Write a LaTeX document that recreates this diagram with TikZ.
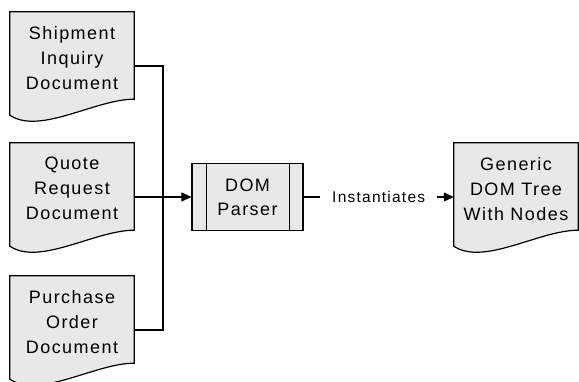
\documentclass[tikz,border=0pt]{standalone}
\usepackage{fontspec}
\setmainfont{Liberation Sans}[LetterSpace=8]
\usetikzlibrary{arrows.meta,calc,backgrounds}

\definecolor{shapefill}{RGB}{232,232,232}

% text block of a document shape: fixed size, lines hung from the top
\newcommand\doctext[1]{\parbox[c][108pt][t]{124pt}{\centering\vspace*{14pt}#1}}

% outline of a document shape with a wavy lower edge
\newcommand\docoutline[1]{%
  \path[docline] (#1.north west) -- (#1.north east) -- ($(#1.south east)+(0,-21)$)
    .. controls ($(#1.south east)+(-39,-21)$) and ($(#1.south west)+(30,15)$)
    .. ($(#1.south west)+(0,-5)$) -- cycle;}

\tikzset{
  docshape/.style={inner sep=0pt, minimum width=124pt, minimum height=108pt,
    font=\fontsize{18}{25}\selectfont},
  docline/.style={draw=black, fill=shapefill, line width=1.2pt, line join=miter},
  procbox/.style={draw=black, fill=shapefill, line width=1.2pt, inner sep=0pt,
    minimum width=111pt, minimum height=67pt, align=center,
    font=\fontsize{18}{24}\selectfont},
  conn/.style={draw=black, line width=1.1pt},
  tip/.style={-{Triangle[length=10pt,width=9pt]}},
  edgelabel/.style={fill=white, inner xsep=12pt, inner ysep=2pt,
    font=\fontsize{15.5}{18}\selectfont},
}

\begin{document}
\begin{tikzpicture}[x=1pt, y=-1pt]
  \useasboundingbox (0,0) rectangle (579,382);

  % input documents
  \node[docshape] (ship)  at (72,66)  {\doctext{Shipment\\Inquiry\\Document}};
  \node[docshape] (quote) at (72,197) {\doctext{Quote\\Request\\Document}};
  \node[docshape] (order) at (72,330) {\doctext{Purchase\\Order\\Document}};

  % parser
  \node[procbox] (parser) at (247.5,197) {DOM\\Parser};
  \draw[line width=1.2pt] ($(parser.north west)+(15,0)$) -- ($(parser.south west)+(15,0)$);
  \draw[line width=1.2pt] ($(parser.north east)+(-14,0)$) -- ($(parser.south east)+(-14,0)$);

  % output document
  \node[docshape] (tree) at (516,197) {\doctext{Generic\\DOM Tree\\With Nodes}};

  \begin{scope}[on background layer]
    \docoutline{ship}
    \docoutline{quote}
    \docoutline{order}
    \docoutline{tree}
  \end{scope}

  % connectors
  \coordinate (merge) at (163,197);
  \draw[conn] (ship.east) -| (merge);
  \draw[conn] (order.east) -| (merge);
  \draw[conn,tip] (quote.east) -- (parser.west);
  \draw[conn,tip] (parser.east) -- node[edgelabel] (inst) {Instantiates} (tree.west);
\end{tikzpicture}
\end{document}
